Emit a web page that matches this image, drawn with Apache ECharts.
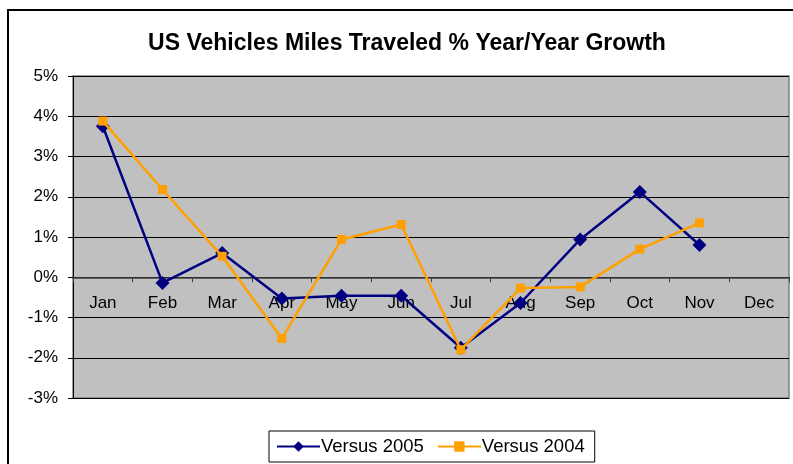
<!DOCTYPE html>
<html><head><meta charset="utf-8">
<script src="https://cdn.jsdelivr.net/npm/echarts@6/dist/echarts.min.js"></script>
<style>html,body{margin:0;padding:0;background:#fff}#c{width:793px;height:464px}</style>
</head><body><div id="c"></div>
<script>
var categories = ['Jan','Feb','Mar','Apr','May','Jun','Jul','Aug','Sep','Oct','Nov','Dec'];
var versus2005 = [3.75, -0.14, 0.60, -0.53, -0.46, -0.46, -1.75, -0.64, 0.94, 2.12, 0.80, null];
var versus2004 = [3.88, 2.18, 0.52, -1.52, 0.94, 1.31, -1.80, -0.27, -0.24, 0.70, 1.35, null];
var seriesNames = ['Versus 2005', 'Versus 2004'];

var chart = echarts.init(document.getElementById('c'), null, {renderer: 'canvas'});
chart.setOption({
  animation: false,
  backgroundColor: '#fff',
  textStyle: {fontFamily: 'Liberation Sans, Arial, sans-serif'},
  graphic: [{
    type: 'rect', shape: {x: 8, y: 10, width: 820, height: 480},
    style: {fill: 'none', stroke: '#000', lineWidth: 2}, z: -1
  }],
  title: {
    text: 'US Vehicles Miles Traveled % Year/Year Growth',
    left: 402, top: 27, textAlign: 'center',
    textStyle: {fontSize: 23, fontWeight: 'bold', color: '#000', fontFamily: 'Liberation Sans, Arial, sans-serif'}
  },
  legend: {
    data: seriesNames,
    left: 269, top: 431,
    padding: [6, 10, 6, 7],
    borderColor: '#000', borderWidth: 1, borderRadius: 0,
    itemWidth: 43, itemHeight: 13, itemGap: 13,
    textStyle: {fontSize: 18.5, color: '#000', padding: [0, 0, 0, -4]}
  },
  grid: {
    left: 73, right: 4, top: 76, bottom: 66,
    show: true, backgroundColor: '#C0C0C0', borderColor: '#808080', borderWidth: 1.5
  },
  xAxis: {
    type: 'category', data: categories, boundaryGap: true,
    offset: -120.75,
    axisLine: {onZero: false, lineStyle: {color: '#404040', width: 1.5}},
    axisTick: {show: true, interval: 0, length: 5, lineStyle: {color: '#404040'}},
    axisLabel: {fontSize: 17, color: '#000', margin: 18, interval: 0},
    splitLine: {show: false}
  },
  yAxis: {
    type: 'value', min: -3, max: 5, interval: 1,
    axisLine: {show: true, lineStyle: {color: '#000', width: 1}},
    axisTick: {show: true, length: 5, lineStyle: {color: '#000'}},
    axisLabel: {fontSize: 17, color: '#000', margin: 15, formatter: '{value}%'},
    splitLine: {show: true, lineStyle: {color: '#000', width: 1}}
  },
  series: [{
    name: seriesNames[0], type: 'line', data: versus2005,
    symbol: 'diamond', symbolSize: 14,
    itemStyle: {color: '#000080'}, lineStyle: {color: '#000080', width: 2.5}, z: 3
  }, {
    name: seriesNames[1], type: 'line', data: versus2004,
    symbol: 'rect', symbolSize: 9,
    itemStyle: {color: '#FFA000'}, lineStyle: {color: '#FFA000', width: 2.5}, z: 4
  }]
});
</script></body></html>
